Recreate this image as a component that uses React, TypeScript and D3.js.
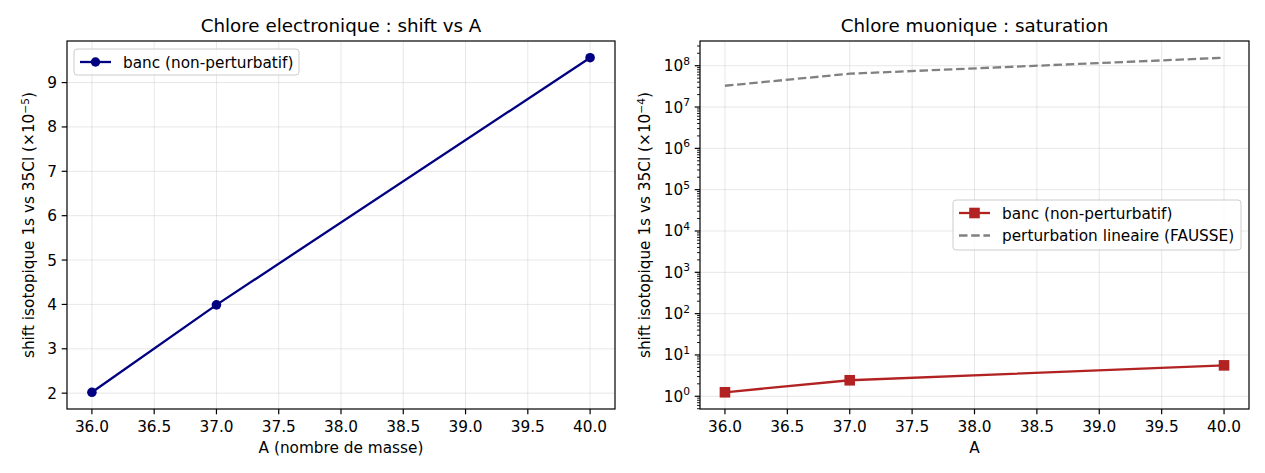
import React from "react";
import * as d3 from "d3";

const massNumbers = [36, 37, 40];
const electronicShift = [2.02, 3.99, 9.56];
const muonicShift = [1.25, 2.44, 5.6];
const linearPerturbation = [3.27e7, 6.4e7, 1.56e8];
const xTicks = [36.0, 36.5, 37.0, 37.5, 38.0, 38.5, 39.0, 39.5, 40.0];
const leftYTicks = [2, 3, 4, 5, 6, 7, 8, 9];
const rightYExps = [0, 1, 2, 3, 4, 5, 6, 7, 8];

const W = 1265;
const H = 473;
const FONT = "DejaVu Sans, sans-serif";
const TICK = 15.3;
const SUP = 10.7;
const LW = 2.3;
const TL = 5.3;

const top = 41;
const bottom = 409;
const L = { left: 67, right: 615 };
const R = { left: 700, right: 1249 };

function pad(lo: number, hi: number) {
  const m = (hi - lo) * 0.05;
  return [lo - m, hi + m];
}

function Legend({ x, y, w, h, items }: any) {
  return (
    <g>
      <rect x={x} y={y} width={w} height={h} rx={3} fill="white" fillOpacity={0.8} stroke="#cccccc" strokeWidth={1} />
      {items.map((it: any, i: number) => {
        const cy = y + 13 + i * 22.5;
        return (
          <g key={i}>
            <line x1={x + 6} x2={x + 37} y1={cy} y2={cy} stroke={it.color} strokeWidth={LW} strokeDasharray={it.dash || undefined} />
            {it.marker === "circle" && <circle cx={x + 21.5} cy={cy} r={4.7} fill={it.color} />}
            {it.marker === "square" && <rect x={x + 21.5 - 5.3} y={cy - 5.3} width={10.6} height={10.6} fill={it.color} />}
            <text x={x + 49} y={cy + 5.5} fontSize={TICK} fontFamily={FONT} fill="#000">{it.label}</text>
          </g>
        );
      })}
    </g>
  );
}

export default function App() {
  const xDom = pad(36, 40);
  const xl = d3.scaleLinear().domain(xDom).range([L.left, L.right]);
  const xr = d3.scaleLinear().domain(xDom).range([R.left, R.right]);
  const yl = d3.scaleLinear().domain(pad(d3.min(electronicShift)!, d3.max(electronicShift)!)).range([bottom, top]);
  const allLog = [...muonicShift, ...linearPerturbation].map(Math.log10);
  const [lo, hi] = pad(d3.min(allLog)!, d3.max(allLog)!);
  const yr = d3.scaleLog().domain([Math.pow(10, lo), Math.pow(10, hi)]).range([bottom, top]);

  const lineL = d3.line<number>().x((_, i) => xl(massNumbers[i])).y((d) => yl(d));
  const lineR = d3.line<number>().x((_, i) => xr(massNumbers[i])).y((d) => yr(d));

  const minor: number[] = [];
  for (let e = -1; e <= 8; e++) {
    for (let k = 2; k <= 9; k++) {
      const v = k * Math.pow(10, e);
      if (yr(v) <= bottom && yr(v) >= top) minor.push(v);
    }
  }

  const grid = { stroke: "#b0b0b0", strokeOpacity: 0.35, strokeWidth: 0.9 };
  const dash = "8.5,3.7";

  return (
    <svg width={W} height={H} style={{ position: "absolute", left: 0, top: 0 }} fontFamily={FONT}>
      <rect width={W} height={H} fill="white" />
      {/* LEFT */}
      <g>
        {xTicks.map((t) => <line key={t} x1={xl(t)} x2={xl(t)} y1={top} y2={bottom} {...grid} />)}
        {leftYTicks.map((t) => <line key={t} x1={L.left} x2={L.right} y1={yl(t)} y2={yl(t)} {...grid} />)}
        <path d={lineL(electronicShift)!} fill="none" stroke="#000080" strokeWidth={LW} />
        {electronicShift.map((v, i) => <circle key={i} cx={xl(massNumbers[i])} cy={yl(v)} r={4.8} fill="#000080" />)}
        <rect x={L.left} y={top} width={L.right - L.left} height={bottom - top} fill="none" stroke="#000" strokeWidth={1.2} />
        {xTicks.map((t) => (
          <g key={t}>
            <line x1={xl(t)} x2={xl(t)} y1={bottom} y2={bottom + TL} stroke="#000" strokeWidth={1.2} />
            <text x={xl(t)} y={bottom + 22.5} textAnchor="middle" fontSize={TICK}>{t.toFixed(1)}</text>
          </g>
        ))}
        {leftYTicks.map((t) => (
          <g key={t}>
            <line x1={L.left} x2={L.left - TL} y1={yl(t)} y2={yl(t)} stroke="#000" strokeWidth={1.2} />
            <text x={L.left - 10} y={yl(t) + 5.5} textAnchor="end" fontSize={TICK}>{t}</text>
          </g>
        ))}
        <text x={(L.left + L.right) / 2} y={32} textAnchor="middle" fontSize={18.3}>Chlore electronique : shift vs A</text>
        <text x={(L.left + L.right) / 2} y={453} textAnchor="middle" fontSize={TICK}>A (nombre de masse)</text>
        <text transform={`translate(34,${(top + bottom) / 2}) rotate(-90)`} textAnchor="middle" fontSize={TICK}>
          shift isotopique 1s vs 35Cl (×10<tspan dy={-5.5} fontSize={SUP}>−5</tspan><tspan dy={5.5}>)</tspan>
        </text>
        <Legend x={74} y={49} w={225} h={26} items={[{ color: "#000080", marker: "circle", label: "banc (non-perturbatif)" }]} />
      </g>
      {/* RIGHT */}
      <g>
        {xTicks.map((t) => <line key={t} x1={xr(t)} x2={xr(t)} y1={top} y2={bottom} {...grid} />)}
        {rightYExps.map((e) => <line key={e} x1={R.left} x2={R.right} y1={yr(Math.pow(10, e))} y2={yr(Math.pow(10, e))} {...grid} />)}
        <path d={lineR(linearPerturbation)!} fill="none" stroke="#808080" strokeWidth={LW} strokeDasharray={dash} />
        <path d={lineR(muonicShift)!} fill="none" stroke="#b22222" strokeWidth={LW} />
        {muonicShift.map((v, i) => <rect key={i} x={xr(massNumbers[i]) - 5.3} y={yr(v) - 5.3} width={10.6} height={10.6} fill="#b22222" />)}
        <rect x={R.left} y={top} width={R.right - R.left} height={bottom - top} fill="none" stroke="#000" strokeWidth={1.2} />
        {xTicks.map((t) => (
          <g key={t}>
            <line x1={xr(t)} x2={xr(t)} y1={bottom} y2={bottom + TL} stroke="#000" strokeWidth={1.2} />
            <text x={xr(t)} y={bottom + 22.5} textAnchor="middle" fontSize={TICK}>{t.toFixed(1)}</text>
          </g>
        ))}
        {minor.map((v, i) => <line key={i} x1={R.left} x2={R.left - 3} y1={yr(v)} y2={yr(v)} stroke="#000" strokeWidth={0.9} />)}
        {rightYExps.map((e) => (
          <g key={e}>
            <line x1={R.left} x2={R.left - TL} y1={yr(Math.pow(10, e))} y2={yr(Math.pow(10, e))} stroke="#000" strokeWidth={1.2} />
            <text x={R.left - 10} y={yr(Math.pow(10, e)) + 5.5} textAnchor="end" fontSize={TICK}>
              10<tspan dy={-6.5} fontSize={SUP}>{e}</tspan>
            </text>
          </g>
        ))}
        <text x={(R.left + R.right) / 2} y={32} textAnchor="middle" fontSize={18.3}>Chlore muonique : saturation</text>
        <text x={(R.left + R.right) / 2} y={453} textAnchor="middle" fontSize={TICK}>A</text>
        <text transform={`translate(650,${(top + bottom) / 2}) rotate(-90)`} textAnchor="middle" fontSize={TICK}>
          shift isotopique 1s vs 35Cl (×10<tspan dy={-5.5} fontSize={SUP}>−4</tspan><tspan dy={5.5}>)</tspan>
        </text>
        <Legend x={953} y={200} w={288} h={50} items={[
          { color: "#b22222", marker: "square", label: "banc (non-perturbatif)" },
          { color: "#808080", dash: dash, label: "perturbation lineaire (FAUSSE)" },
        ]} />
      </g>
    </svg>
  );
}
